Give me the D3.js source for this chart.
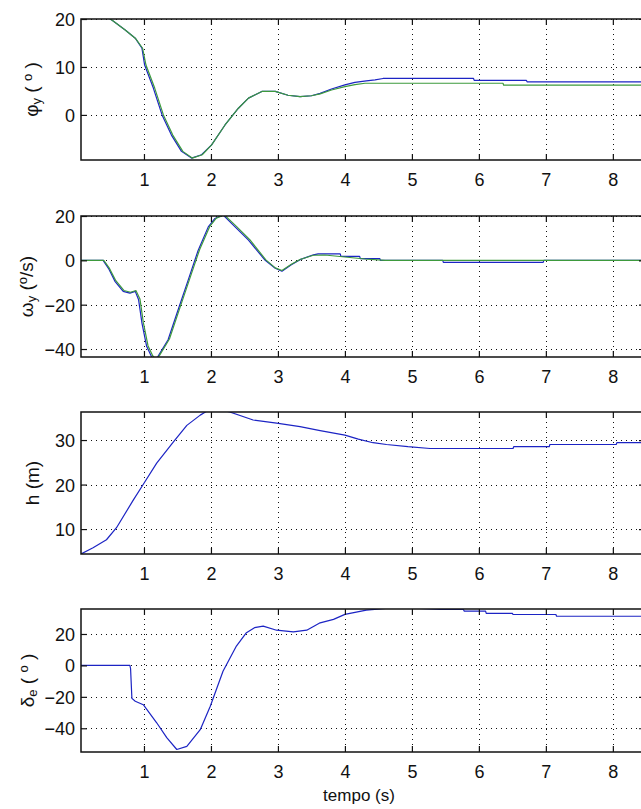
<!DOCTYPE html>
<html>
<head>
<meta charset="utf-8">
<script src="https://cdn.jsdelivr.net/npm/d3@7"></script>
<style>
  html, body { margin: 0; padding: 0; background: #fff; }
  svg { display: block; }
  text { font-family: "Liberation Sans", Arial, Helvetica, sans-serif; fill: #111; }
</style>
</head>
<body>
<svg id="chart" width="641" height="809"></svg>
<script>
// ---------------- data ----------------
const xTicks = [1, 2, 3, 4, 5, 6, 7, 8];
const xLabel = "tempo (s)";

// panel 1: phi_y (deg)
const phiT_blue = [0.06, 0.3, 0.54, 0.72, 0.87, 0.97, 1.01, 1.14, 1.27, 1.41, 1.56, 1.71, 1.86, 2.01, 2.21, 2.41, 2.56, 2.76, 2.96, 3.15, 3.33, 3.5, 3.63, 3.8, 4.0, 4.15, 4.32, 4.45, 4.57, 5.92, 5.93, 6.71, 6.72, 8.5];
const phiV_blue = [23.5, 21.8, 19.6, 17.7, 16, 13.9, 10.4, 5.6, 0, -4.2, -7.6, -9.0, -8.3, -6.25, -2.1, 1.4, 3.5, 4.9, 4.9, 4.1, 3.8, 4.0, 4.5, 5.4, 6.25, 6.8, 7.1, 7.3, 7.6, 7.6, 7.2, 7.2, 6.9, 6.9];
const phiT_green = [0.06, 0.3, 0.54, 0.72, 0.87, 0.98, 1.03, 1.16, 1.29, 1.43, 1.58, 1.72, 1.87, 2.01, 2.21, 2.41, 2.56, 2.76, 2.96, 3.15, 3.33, 3.5, 3.63, 3.8, 4.0, 4.15, 4.3, 6.36, 6.37, 8.5];
const phiV_green = [23.5, 21.8, 19.6, 17.7, 16, 13.9, 10.4, 5.6, 0, -4.2, -7.6, -9.0, -8.3, -6.25, -2.1, 1.4, 3.5, 4.9, 4.9, 4.1, 3.8, 4.0, 4.4, 5.2, 5.9, 6.3, 6.6, 6.6, 6.2, 6.2];
const phiTicks = [0, 10, 20];

// panel 2: omega_y (deg/s)
const omT_blue = [0.06, 0.39, 0.47, 0.57, 0.69, 0.79, 0.87, 0.92, 0.97, 1.04, 1.11, 1.16, 1.21, 1.36, 1.51, 1.66, 1.81, 1.96, 2.06, 2.18, 2.36, 2.56, 2.81, 2.96, 3.06, 3.2, 3.33, 3.53, 3.6, 3.93, 3.94, 4.22, 4.23, 4.52, 4.53, 5.46, 5.47, 6.96, 6.97, 8.5];
const omV_blue = [0, 0, -3.6, -9.6, -14, -14.8, -14, -17.8, -28.3, -38.8, -43.3, -45, -43.3, -35.8, -22.3, -8.9, 4.6, 15.1, 18.9, 20.5, 15.1, 9.1, 0, -3.6, -4.9, -2, 0.3, 2.5, 2.9, 2.9, 1.8, 1.8, 0.8, 0.8, 0, 0, -0.9, -0.9, 0, 0];
const omT_green = [0.06, 0.40, 0.48, 0.58, 0.70, 0.80, 0.88, 0.94, 0.99, 1.06, 1.13, 1.18, 1.23, 1.38, 1.53, 1.68, 1.83, 1.98, 2.08, 2.2, 2.38, 2.58, 2.82, 2.96, 3.06, 3.2, 3.33, 3.53, 3.7, 4.0, 4.3, 4.6, 8.5];
const omV_green = [0, 0, -3.4, -9.2, -13.6, -14.4, -13.6, -17.4, -28, -38.5, -43, -44.8, -43, -35.5, -22, -8.6, 4.8, 15.2, 19, 20.5, 15.3, 9.3, 0.2, -3.4, -4.6, -1.8, 0.4, 2.3, 2.4, 1.5, 0.6, 0, 0];
const omTicks = [-40, -20, 0, 20];

// panel 3: h (m)
const hT = [0.06, 0.24, 0.44, 0.59, 0.84, 1.0, 1.19, 1.44, 1.64, 1.84, 1.95, 2.1, 2.28, 2.63, 2.98, 3.33, 3.63, 4.0, 4.2, 4.42, 4.62, 4.94, 5.27, 6.51, 6.52, 7.05, 7.06, 8.05, 8.06, 8.5];
const hV = [4.4, 5.8, 7.6, 10.3, 16.5, 20.3, 24.8, 29.6, 33.3, 35.6, 36.6, 37, 36.3, 34.5, 33.8, 33, 32.1, 31.1, 30.2, 29.4, 29.0, 28.5, 28.1, 28.1, 28.5, 28.5, 29.0, 29.0, 29.4, 29.4];
const hTicks = [10, 20, 30];

// panel 4: delta_e (deg)
const deT = [0.06, 0.79, 0.80, 0.82, 0.87, 0.99, 1.19, 1.34, 1.49, 1.64, 1.84, 1.99, 2.18, 2.38, 2.53, 2.65, 2.78, 2.98, 3.23, 3.43, 3.63, 3.83, 4.0, 4.32, 4.8, 5.42, 5.77, 5.78, 6.1, 6.11, 6.5, 6.51, 7.15, 7.16, 8.5];
const deV = [0, 0, -2, -21, -22.8, -25, -36.5, -46, -53.5, -51.5, -40.9, -26, -3.7, 12.3, 20.8, 24, 25, 22.4, 21.4, 22.4, 27.1, 29.3, 32.5, 35.2, 37, 35.6, 35.6, 34.6, 34.6, 33.1, 33.1, 32.4, 32.4, 31.3, 31.3];
const deTicks = [-40, -20, 0, 20];

// ---------------- layout ----------------
const W = 641, H = 809;
const left = 81, right = 645;
const tickLen = 6;
const blue = "#1c24c4", green = "#3d9a3d";

const panels = [
  { top: 19,  bottom: 160, domain: [-9.4, 20],   ticks: phiTicks,
    series: [{t: phiT_blue, v: phiV_blue, c: blue}, {t: phiT_green, v: phiV_green, c: green}],
    label: [["φ", null], ["y", "sub"], [" ( ", null], ["o", "sup"], [" )", null]], lx: 38 },
  { top: 216, bottom: 357, domain: [-43.6, 20],  ticks: omTicks,
    series: [{t: omT_blue, v: omV_blue, c: blue}, {t: omT_green, v: omV_green, c: green}],
    label: [["ω", null], ["y", "sub"], [" (", null], ["o", "sup"], ["/s)", null]], lx: 33 },
  { top: 412, bottom: 554, domain: [4.4, 36.3],  ticks: hTicks,
    series: [{t: hT, v: hV, c: blue}],
    label: [["h (m)", null]], lx: 39 },
  { top: 609, bottom: 752, domain: [-55.1, 35.9], ticks: deTicks,
    series: [{t: deT, v: deV, c: blue}],
    label: [["δ", null], ["e", "sub"], [" ( ", null], ["o", "sup"], [" )", null]], lx: 34 }
];

const x = d3.scaleLinear().domain([0.06, 8.48]).range([left, right]);

const svg = d3.select("#chart");
svg.append("rect").attr("width", W).attr("height", H).attr("fill", "#fff");

panels.forEach((p, i) => {
  const y = d3.scaleLinear().domain(p.domain).range([p.bottom, p.top]);
  const g = svg.append("g");

  const clipId = "clip" + i;
  svg.append("clipPath").attr("id", clipId)
    .append("rect").attr("x", left).attr("y", p.top)
    .attr("width", right - left).attr("height", p.bottom - p.top);

  // grid
  const grid = g.append("g").attr("stroke", "#111").attr("stroke-width", 1)
    .attr("stroke-dasharray", "1 4").attr("shape-rendering", "crispEdges");
  grid.selectAll("line.v").data(xTicks).enter().append("line")
    .attr("x1", d => Math.round(x(d)) + 0.5).attr("x2", d => Math.round(x(d)) + 0.5)
    .attr("y1", p.top).attr("y2", p.bottom);
  grid.selectAll("line.h").data(p.ticks).enter().append("line")
    .attr("y1", d => Math.round(y(d)) + 0.5).attr("y2", d => Math.round(y(d)) + 0.5)
    .attr("x1", left).attr("x2", right);

  // lines
  const line = d3.line().x(d => x(d[0])).y(d => y(d[1]));
  const lg = g.append("g").attr("clip-path", `url(#${clipId})`);
  p.series.forEach(s => {
    const pts = s.t.map((t, k) => [t, s.v[k]]);
    lg.append("path").datum(pts).attr("d", line)
      .attr("fill", "none").attr("stroke", s.c).attr("stroke-width", 1.2)
      .attr("stroke-linejoin", "round");
  });

  // axes
  const axB = d3.axisBottom(x).tickValues(xTicks).tickFormat(d3.format("d"))
    .tickSizeInner(-tickLen).tickSizeOuter(0).tickPadding(13);
  const axT = d3.axisTop(x).tickValues(xTicks).tickFormat("")
    .tickSizeInner(-tickLen).tickSizeOuter(0);
  const axL = d3.axisLeft(y).tickValues(p.ticks).tickFormat(d3.format("d"))
    .tickSizeInner(-tickLen).tickSizeOuter(0).tickPadding(6);
  const axR = d3.axisRight(y).tickValues(p.ticks).tickFormat("")
    .tickSizeInner(-tickLen).tickSizeOuter(0);

  const gB = g.append("g").attr("transform", `translate(0,${p.bottom})`).call(axB);
  const gT = g.append("g").attr("transform", `translate(0,${p.top})`).call(axT);
  const gL = g.append("g").attr("transform", `translate(${left},0)`).call(axL);
  const gR = g.append("g").attr("transform", `translate(${right},0)`).call(axR);
  [gB, gT, gL, gR].forEach(a => {
    a.select(".domain").remove();
    a.selectAll(".tick line").attr("stroke", "#111").attr("stroke-width", 1.2);
    a.selectAll(".tick text").attr("font-size", 18).attr("fill", "#111")
      .attr("font-family", "'Liberation Sans', Arial, sans-serif");
  });
  gL.selectAll(".tick text").attr("dy", "0.36em");

  // box
  g.append("rect").attr("x", left).attr("y", p.top)
    .attr("width", right - left).attr("height", p.bottom - p.top)
    .attr("fill", "none").attr("stroke", "#111").attr("stroke-width", 1.5);

  // y label
  const cy = (p.top + p.bottom) / 2;
  const t = svg.append("text")
    .attr("transform", `translate(${p.lx},${cy}) rotate(-90)`)
    .attr("text-anchor", "middle").attr("font-size", 19)
    .style("white-space", "pre");
  p.label.forEach(([s, kind]) => {
    const ts = t.append("tspan").text(s);
    if (kind === "sub") ts.attr("font-size", 13).attr("baseline-shift", "-25%");
    if (kind === "sup") ts.attr("font-size", 13).attr("baseline-shift", "45%");
  });
});

svg.append("text").attr("x", (left + right) / 2 - 4).attr("y", 801)
  .attr("text-anchor", "middle").attr("font-size", 17).text(xLabel);
</script>
</body>
</html>
